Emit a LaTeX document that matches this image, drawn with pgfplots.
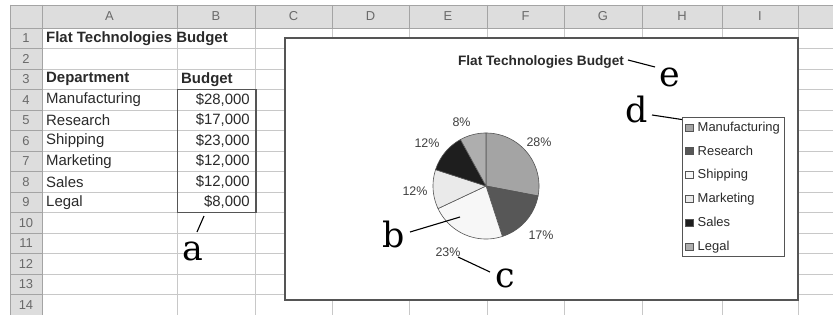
\documentclass[border=0pt]{standalone}
\usepackage{fontspec}
\setmainfont{Liberation Sans}
\newfontfamily\letterfont{DejaVu Serif}
\usepackage{pgfplots}
\pgfplotsset{compat=1.18}
\usepackage{pgfplotstable}

\definecolor{gridc}{HTML}{C8C8C8}
\definecolor{hdrfill}{HTML}{DDDDDD}
\definecolor{hdrline}{HTML}{A4A4A4}
\definecolor{txt}{HTML}{2A2A2A}
\definecolor{hdrtxt}{HTML}{6A6A6A}
\definecolor{framec}{HTML}{555555}
\definecolor{cManu}{HTML}{A4A4A4}
\definecolor{cRes}{HTML}{575757}
\definecolor{cShip}{HTML}{F7F7F7}
\definecolor{cMark}{HTML}{EAEAEA}
\definecolor{cSales}{HTML}{1E1E1E}
\definecolor{cLegal}{HTML}{AEAEAE}

% Budget data (total 100,000 -> 3.6 degrees per 1,000)
\pgfplotstableread{
dept value
Manufacturing 28000
Research 17000
Shipping 23000
Marketing 12000
Sales 12000
Legal 8000
}\budget

\newcommand{\cellfont}{\fontsize{15}{17}\selectfont}
\newcommand{\hdrfont}{\fontsize{13}{15}\selectfont}

\begin{document}
\begin{tikzpicture}[x=1bp,y=1bp]
\useasboundingbox (0,0) rectangle (833,315);
\fill[white] (0,0) rectangle (833,315);
\begin{scope}[shift={(0,315)}, y=-1bp]
  % grid lines
  \foreach \yy in {48.5,69,89.5,110,130.5,151,171.5,192,212.5,233,253.5,274,294.5}
    \draw[gridc, line width=0.8bp] (42,\yy) -- (833,\yy);
  \foreach \xx in {177,255,332,409,487,564,642,722,798}
    \draw[gridc, line width=0.8bp] (\xx,28) -- (\xx,315);
  % headers
  \fill[hdrfill] (10,5) rectangle (833,28);
  \fill[hdrfill] (10,5) rectangle (42,315);
  \foreach \xx in {10,42,177,255,332,409,487,564,642,722,798}
    \draw[hdrline, line width=0.8bp] (\xx,5) -- (\xx,28);
  \foreach \yy in {48.5,69,89.5,110,130.5,151,171.5,192,212.5,233,253.5,274,294.5}
    \draw[hdrline, line width=0.8bp] (10,\yy) -- (42,\yy);
  \draw[hdrline, line width=0.9bp] (10,5) -- (833,5);
  \draw[hdrline, line width=0.9bp] (10,28) -- (833,28);
  \draw[hdrline, line width=0.9bp] (10,5) -- (10,315);
  \draw[hdrline, line width=0.9bp] (42,5) -- (42,315);
  \foreach \lab/\xx in {A/109.5,B/216,C/293.5,D/370.5,E/448,F/525.5,G/603,H/682,I/760}
    \node[text=hdrtxt, font=\hdrfont] at (\xx,16.5) {\lab};
  \foreach \i in {1,...,14}
    \node[text=hdrtxt, font=\hdrfont] at (26,{28+20.5*(\i-0.5)}) {\i};
  % cells
  \node[anchor=west, text=txt, font=\cellfont\bfseries, inner sep=0] at (46,38.25) {Flat Technologies Budget};
  \node[anchor=west, text=txt, font=\cellfont\bfseries, inner sep=0] at (46,79.25) {Department};
  \node[anchor=west, text=txt, font=\cellfont\bfseries, inner sep=0] at (181,79.25) {Budget};
  \foreach \d/\v [count=\i from 4] in {Manufacturing/28,Research/17,Shipping/23,Marketing/12,Sales/12,Legal/8}{
    \node[anchor=west, text=txt, font=\cellfont, inner sep=0] at (46,{28+20.5*(\i-0.5)}) {\d};
    \node[anchor=east, text=txt, font=\cellfont, inner sep=0] at (250,{28+20.5*(\i-0.5)}) {\$\v,000};
  }
  \draw[framec, line width=1.2bp] (177.5,89.5) rectangle (256,212.5);
  % annotation a
  \draw[black, line width=1.1bp] (204,216) -- (197,232);
  \node[anchor=base, inner sep=0, font=\letterfont\fontsize{35}{35}\selectfont] at (193,260) {a};
\end{scope}

\begin{axis}[
  at={(285bp,15bp)}, anchor=south west,
  scale only axis, width=513bp, height=262bp,
  xmin=-201, xmax=312, ymin=-114, ymax=148,
  xtick=\empty, ytick=\empty,
  axis line style={draw=framec, line width=1.3bp},
  axis background/.style={fill=white},
  clip=false,
  legend cell align=left,
  legend image code/.code={\draw[#1, draw=framec, line width=0.5bp] (0bp,-3.5bp) rectangle (8bp,3.5bp); \path[draw=none, fill=none] (10.5bp,0bp) circle[radius=0.01bp];},
  legend style={at={(axis cs:196,69)}, anchor=north west, draw=framec, line width=0.9bp,
    fill=white, font=\fontsize{13}{15}\selectfont, text=txt, row sep=9.9bp,
    inner xsep=3bp, inner ysep=3bp, nodes={inner sep=1.5bp}},
  slice/.style={draw=framec, line width=0.6bp, samples=80},
]
% slices: clockwise from 12 o'clock, 3.6 degrees per 1,000 of budget
\addplot[slice, fill=cManu,  domain=-10.8:90]     ({53*cos(x)},{53*sin(x)}) -- (axis cs:0,0) -- cycle;
\addlegendentry{Manufacturing}
\addplot[slice, fill=cRes,   domain=-72:-10.8]    ({53*cos(x)},{53*sin(x)}) -- (axis cs:0,0) -- cycle;
\addlegendentry{Research}
\addplot[slice, fill=cShip,  domain=-154.8:-72]   ({53*cos(x)},{53*sin(x)}) -- (axis cs:0,0) -- cycle;
\addlegendentry{Shipping}
\addplot[slice, fill=cMark,  domain=-198:-154.8]  ({53*cos(x)},{53*sin(x)}) -- (axis cs:0,0) -- cycle;
\addlegendentry{Marketing}
\addplot[slice, fill=cSales, domain=-241.2:-198]  ({53*cos(x)},{53*sin(x)}) -- (axis cs:0,0) -- cycle;
\addlegendentry{Sales}
\addplot[slice, fill=cLegal, domain=-270:-241.2]  ({53*cos(x)},{53*sin(x)}) -- (axis cs:0,0) -- cycle;
\addlegendentry{Legal}

% percentage labels
\begin{scope}[every node/.style={font=\fontsize{12.5}{14}\selectfont, text=black!75, inner sep=0}]
\node at (axis cs:53,44) {28\%};
\node at (axis cs:55,-49) {17\%};
\node at (axis cs:-38,-66) {23\%};
\node at (axis cs:-71,-5) {12\%};
\node at (axis cs:-59,43) {12\%};
\node at (axis cs:-24.5,64) {8\%};
\end{scope}

% chart title
\node[font=\fontsize{13.7}{15}\selectfont\bfseries, text=txt, inner sep=0] at (axis cs:55,124) {Flat Technologies Budget};

% annotations
\draw[black, line width=1.1bp] (axis cs:-76,-46) -- (axis cs:-26,-31);
\node[anchor=base, inner sep=0, font=\letterfont\fontsize{35}{35}\selectfont] at (axis cs:-92,-61) {b};
\draw[black, line width=1.1bp] (axis cs:-28,-71) -- (axis cs:4,-86);
\node[anchor=base, inner sep=0, font=\letterfont\fontsize{35}{35}\selectfont] at (axis cs:19,-101) {c};
\draw[black, line width=1.1bp] (axis cs:166,71) -- (axis cs:199,66);
\node[anchor=base, inner sep=0, font=\letterfont\fontsize{35}{35}\selectfont] at (axis cs:150.5,63) {d};
\draw[black, line width=1.1bp] (axis cs:142,126) -- (axis cs:169,119);
\node[anchor=base, inner sep=0, font=\letterfont\fontsize{35}{35}\selectfont] at (axis cs:183.5,99) {e};
\end{axis}
\end{tikzpicture}
\end{document}
